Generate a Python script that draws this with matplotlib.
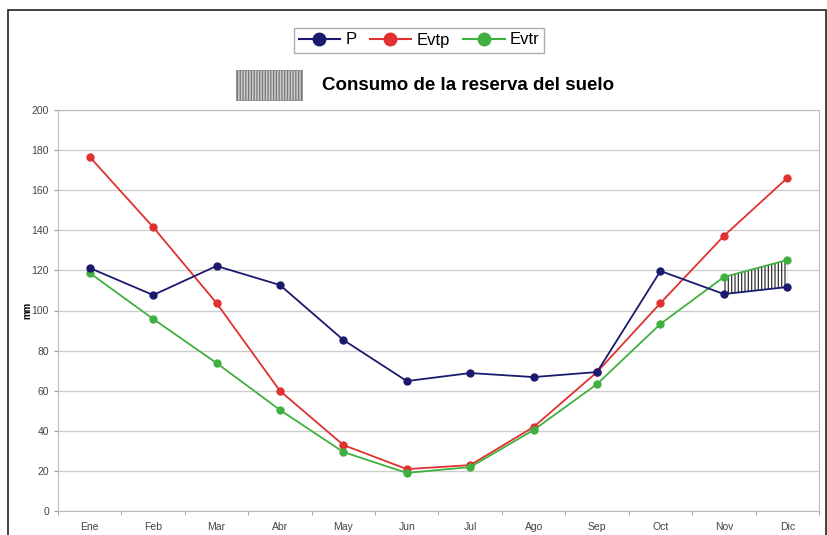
import numpy as np
import matplotlib
matplotlib.use("Agg")
import matplotlib.pyplot as plt
from matplotlib.patches import Rectangle
from matplotlib.lines import Line2D

plt.rcParams["font.family"] = ["Liberation Sans", "DejaVu Sans"]

# datos mensuales (mm)
meses = ["Ene", "Feb", "Mar", "Abr", "May", "Jun", "Jul", "Ago", "Sep", "Oct", "Nov", "Dic"]
p = [121.2, 107.7, 122.2, 112.7, 85.3, 64.8, 68.8, 66.8, 69.3, 119.7, 108.2, 111.7]
evtp = [176.6, 141.6, 103.7, 59.9, 32.9, 20.9, 22.9, 41.9, 69.3, 103.7, 137.2, 166.1]
evtr = [118.7, 95.8, 73.8, 50.4, 29.4, 19.0, 21.9, 40.4, 63.3, 93.3, 116.7, 125.2]
y_ticks = [0, 20, 40, 60, 80, 100, 120, 140, 160, 180, 200]

c_p = "#1a1a6e"
c_evtp = "#e03030"
c_evtr = "#40b040"

fig = plt.figure(figsize=(8.28, 5.35), dpi=100)
W, H = 828, 535

# marco exterior
fig.patches.append(Rectangle((8 / W, -0.01), 818 / W, (H - 10) / H + 0.01,
                             transform=fig.transFigure, fill=False,
                             edgecolor="#222222", linewidth=1.2))

ax = fig.add_axes([58 / W, 24 / H, 761 / W, 401 / H])
x = np.arange(len(meses))

ax.plot(x, p, color=c_p, lw=1.3, marker="o", ms=5, zorder=4)
ax.plot(x, evtp, color=c_evtp, lw=1.3, marker="o", ms=5, zorder=3)
ax.plot(x, evtr, color=c_evtr, lw=1.3, marker="o", ms=5, zorder=3)

# consumo de la reserva: Evtr > P en Nov-Dic
plt.rcParams["hatch.color"] = "#333333"
plt.rcParams["hatch.linewidth"] = 0.9
xs = x[10:]
ax.fill_between(xs, np.array(p)[10:], np.array(evtr)[10:], facecolor="none",
                edgecolor="#333333", hatch="|||||", linewidth=0, zorder=2)

ax.set_xlim(-0.5, len(meses) - 0.5)
ax.set_ylim(0, 200)
ax.set_yticks(y_ticks)
ax.set_xticks(x)
ax.set_xticklabels(meses)
ax.set_xticks(np.arange(-0.5, len(meses), 1), minor=True)
ax.tick_params(axis="x", which="major", length=0, pad=8, labelsize=7.5, colors="#444444")
ax.tick_params(axis="x", which="minor", length=3, color="#999999")
ax.tick_params(axis="y", length=3, color="#999999", labelsize=7.5, colors="#444444")
ax.grid(axis="y", color="#cccccc", lw=0.9)
ax.set_axisbelow(True)
for s in ax.spines.values():
    s.set_color("#bbbbbb")
ax.set_ylabel("mm", fontsize=7, fontweight="bold", labelpad=-1)

handles = [Line2D([], [], color=c, lw=1.5, marker="o", ms=9) for c in (c_p, c_evtp, c_evtr)]
leg = fig.legend(handles, ["P", "Evtp", "Evtr"], loc="center", bbox_to_anchor=(419 / W, 1 - 40 / H),
                 ncol=3, fontsize=12, frameon=True, fancybox=False, edgecolor="#999999",
                 handlelength=2.5, handletextpad=0.3, columnspacing=0.8, borderpad=0.3)

# leyenda del sombreado
fig.patches.append(Rectangle((236 / W, 1 - 100 / H), 66 / W, 30 / H, transform=fig.transFigure,
                             facecolor="#cccccc", edgecolor="#777777", hatch="||||||", linewidth=0.5))
fig.text(322 / W, 1 - 86 / H, "Consumo de la reserva del suelo", fontsize=13.5,
         fontweight="bold", va="center", ha="left")

fig.savefig("out.png", dpi=100)
